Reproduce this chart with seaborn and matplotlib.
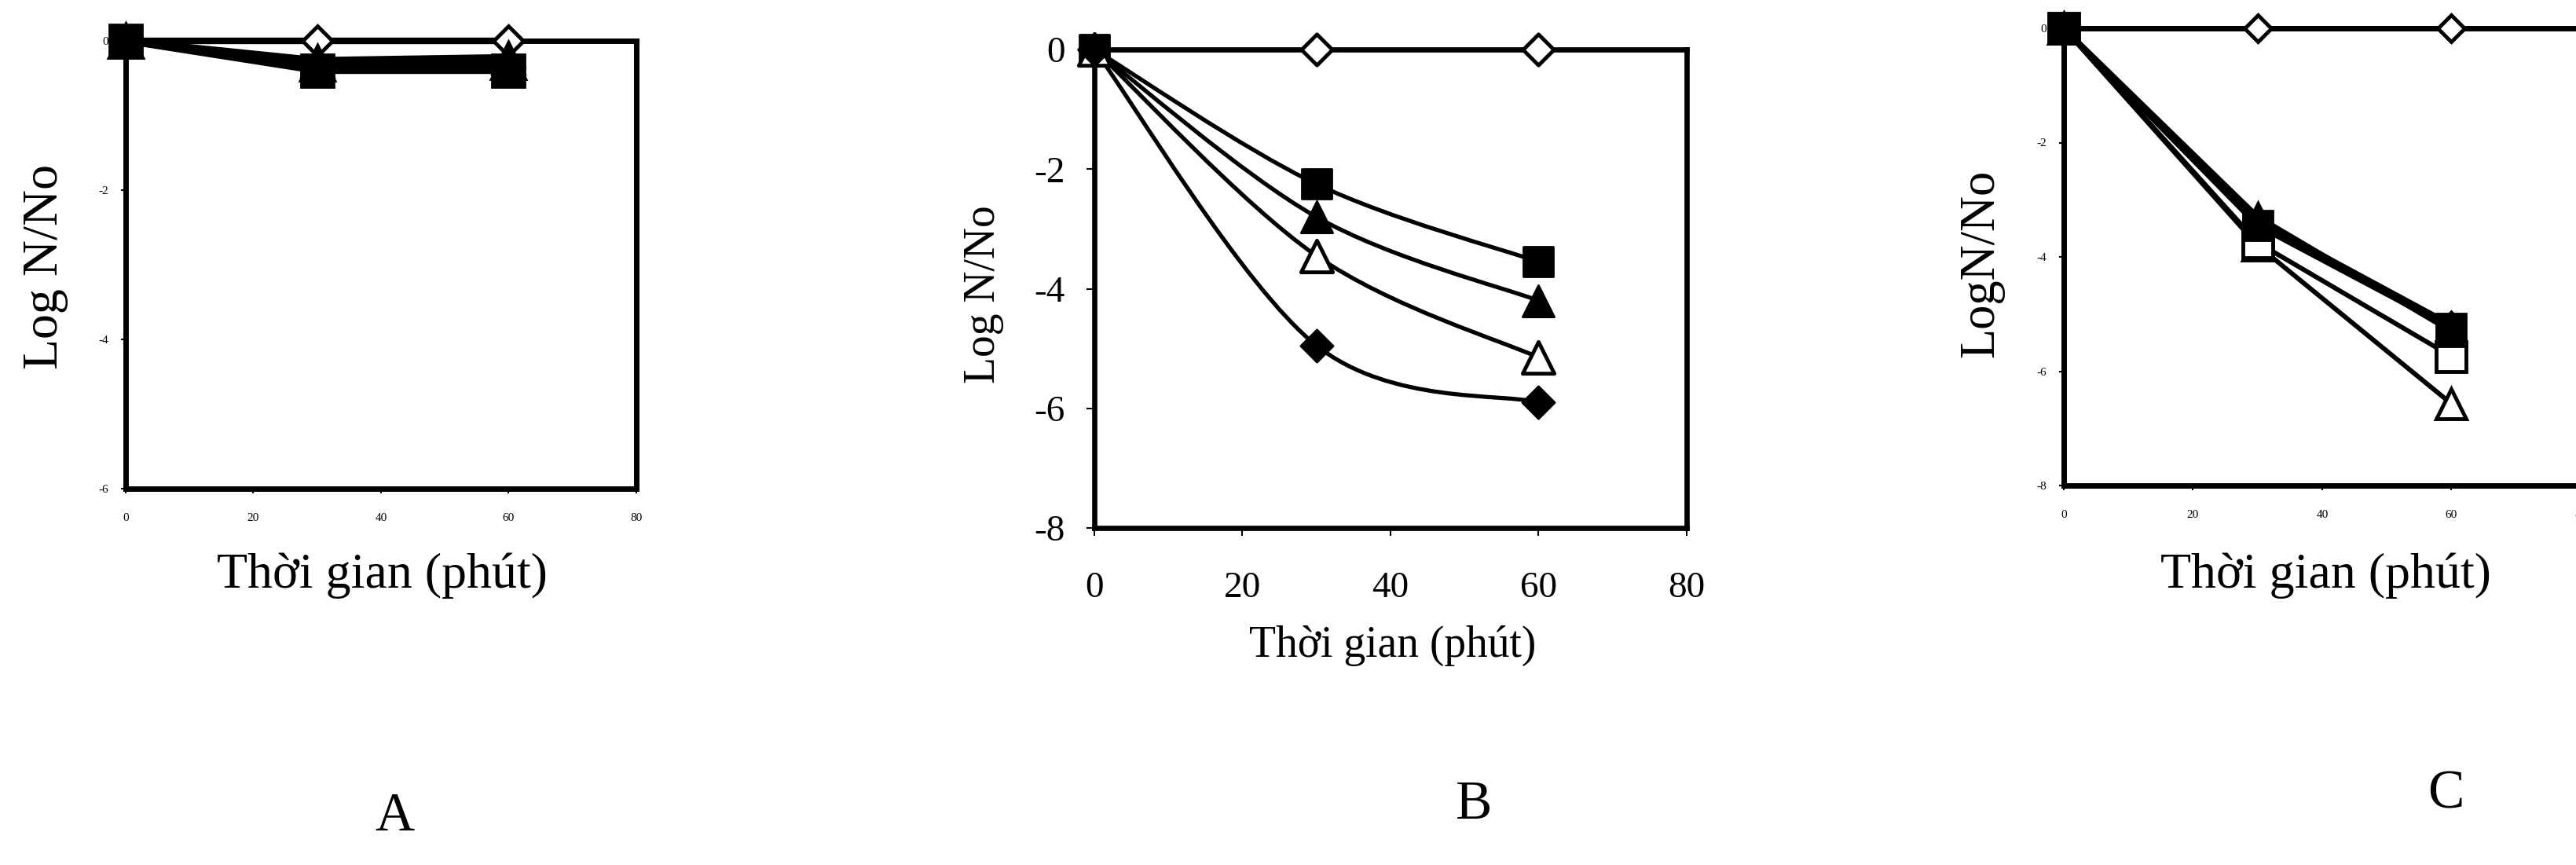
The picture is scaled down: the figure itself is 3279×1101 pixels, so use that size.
import numpy as np
import pandas as pd
import matplotlib
matplotlib.use("Agg")
import matplotlib.pyplot as plt
from matplotlib.path import Path
from matplotlib.patches import PathPatch
import seaborn as sns

W, H = 3280, 1101
DPI = 100

# ---------------- data ----------------
time_min = [0, 30, 60]

# Panel A
a_open_diamond = [0.0, 0.0, 0.0]
a_open_triangle = [0.0, -0.30, -0.28]
a_filled_diamond = [0.0, -0.35, -0.36]
a_filled_triangle = [0.0, -0.26, -0.22]
a_filled_square = [0.0, -0.40, -0.40]

# Panel B
b_open_diamond = [0.0, 0.0, 0.0]
b_filled_square = [0.0, -2.25, -3.55]
b_filled_triangle = [0.0, -2.80, -4.20]
b_open_triangle = [0.0, -3.45, -5.15]
b_filled_diamond = [0.0, -4.95, -5.90]

# Panel C
c_open_diamond = [0.0, 0.0, 0.0]
c_open_triangle = [0.0, -3.80, -6.57]
c_open_square = [0.0, -3.75, -5.74]
c_filled_square = [0.0, -3.45, -5.25]
c_filled_triangle = [0.0, -3.30, -5.30]
c_filled_diamond = [0.0, -3.36, -5.19]

x_ticks = [0, 20, 40, 60, 80]
a_y_ticks = [0, -2, -4, -6]
bc_y_ticks = [0, -2, -4, -6, -8]

x_label = "Thời gian (phút)"
y_label_ab = "Log N/No"
y_label_c = "LogN/No"
panel_names = ["A", "B", "C"]

# ---------------- style ----------------
sns.set_theme(style="white")
plt.rcParams["font.family"] = ["Liberation Serif", "DejaVu Serif"]
plt.rcParams["axes.unicode_minus"] = False

fig = plt.figure(figsize=(W / DPI, H / DPI), dpi=DPI)
fig.patch.set_facecolor("white")


def px_axes(left, top, right, bottom):
    """Axes rectangle from pixel edges (origin at the top-left)."""
    return fig.add_axes([left / W, 1 - bottom / H, (right - left) / W, (bottom - top) / H])


def px_text(x, y, s, size, rotation=0):
    fig.text(x / W, 1 - y / H, s, ha="center", va="center", fontsize=size,
             rotation=rotation, color="black")


def smooth_path(x, y):
    """Smoothed curve through the points (Catmull-Rom as cubic Bezier)."""
    pts = np.column_stack([x, y]).astype(float)
    n = len(pts)
    tang = np.zeros_like(pts)
    for i in range(n):
        tang[i] = (pts[min(i + 1, n - 1)] - pts[max(i - 1, 0)]) / 2.0
    verts = [pts[0]]
    codes = [Path.MOVETO]
    for i in range(n - 1):
        verts += [pts[i] + tang[i] / 3.0, pts[i + 1] - tang[i + 1] / 3.0, pts[i + 1]]
        codes += [Path.CURVE4] * 3
    return Path(verts, codes)


def draw_series(ax, values, marker, filled, ms, lw, mew, z, smooth=False):
    df = pd.DataFrame({"t": time_min, "v": values})
    fc = "black" if filled else "white"
    if smooth:
        ax.add_patch(PathPatch(smooth_path(df["t"], df["v"]), fill=False, lw=lw,
                               ec="black", zorder=z - 0.5, capstyle="round",
                               joinstyle="round"))
        sns.scatterplot(data=df, x="t", y="v", marker=marker, s=ms ** 2, color=fc,
                        edgecolor="black", linewidth=mew, ax=ax, zorder=z,
                        clip_on=False, legend=False)
    else:
        sns.lineplot(data=df, x="t", y="v", marker=marker, markersize=ms,
                     markerfacecolor=fc, markeredgecolor="black", markeredgewidth=mew,
                     color="black", linewidth=lw, ax=ax, zorder=z, clip_on=False,
                     legend=False, errorbar=None)


def style_axes(ax, ylim, yticks, tick_fs, spine_lw, tick_len, xpad, ypad):
    ax.set_xlim(0, 80)
    ax.set_ylim(*ylim)
    ax.set_xticks(x_ticks)
    ax.set_xticklabels([str(t) for t in x_ticks])
    ax.set_yticks(yticks)
    ax.set_yticklabels([str(t) for t in yticks])
    ax.set_xlabel("")
    ax.set_ylabel("")
    ax.grid(False)
    ax.set_facecolor("white")
    for s in ax.spines.values():
        s.set_visible(True)
        s.set_linewidth(spine_lw)
        s.set_color("black")
        s.set_zorder(2.5)
    ax.tick_params(axis="both", direction="out", length=tick_len, width=1.5,
                   colors="black", labelsize=tick_fs, bottom=True, left=True)
    ax.tick_params(axis="x", pad=xpad)
    ax.tick_params(axis="y", pad=ypad)


# ---------------- panel A ----------------
axA = px_axes(160, 52, 810, 622)
draw_series(axA, a_open_diamond, "D", False, 19, 6, 3.5, 3)
draw_series(axA, a_open_triangle, "^", False, 30, 6, 3.5, 3.1)
draw_series(axA, a_filled_diamond, "D", True, 21, 6, 2, 3.2)
draw_series(axA, a_filled_triangle, "^", True, 30, 6, 2, 3.3)
draw_series(axA, a_filled_square, "s", True, 30, 6, 2, 3.4)
style_axes(axA, (-6, 0), a_y_ticks, 11, 5, 4, 18, 12)

# ---------------- panel B ----------------
axB = px_axes(1393, 63, 2147, 672)
draw_series(axB, b_open_diamond, "D", False, 20, 3.8, 3.5, 3, smooth=True)
draw_series(axB, b_filled_square, "s", True, 28, 3.8, 2, 3.2, smooth=True)
draw_series(axB, b_filled_triangle, "^", True, 29, 3.8, 2, 3.3, smooth=True)
draw_series(axB, b_open_triangle, "^", False, 29, 3.8, 3.5, 3.4, smooth=True)
draw_series(axB, b_filled_diamond, "D", True, 21, 3.8, 2, 3.5, smooth=True)
style_axes(axB, (-8, 0), bc_y_ticks, 34, 4.8, 7, 33, 20)

# ---------------- panel C ----------------
axC = px_axes(2627, 36, 3285, 618)
draw_series(axC, c_open_diamond, "D", False, 17, 5, 3.5, 3)
draw_series(axC, c_open_triangle, "^", False, 27, 4.3, 3.5, 3.1)
draw_series(axC, c_open_square, "s", False, 27, 4.3, 3.5, 3.2)
draw_series(axC, c_filled_square, "s", True, 27, 5, 2, 3.3)
draw_series(axC, c_filled_triangle, "^", True, 27, 5, 2, 3.4)
draw_series(axC, c_filled_diamond, "D", True, 18, 5, 2, 3.5)
style_axes(axC, (-8, 0), bc_y_ticks, 11, 5, 4, 18, 12)

# ---------------- labels ----------------
px_text(58, 340, y_label_ab, 46, rotation=90)
px_text(1252, 375, y_label_ab, 40, rotation=90)
px_text(2522, 335, y_label_c, 45, rotation=90)

px_text(486, 733, x_label, 46)
px_text(1773, 822, x_label, 40)
px_text(2960, 733, x_label, 46)

px_text(502, 1040, panel_names[0], 50)
px_text(1876, 1025, panel_names[1], 50)
px_text(3113, 1012, panel_names[2], 50)

fig.savefig("out.png", dpi=DPI, facecolor="white")
